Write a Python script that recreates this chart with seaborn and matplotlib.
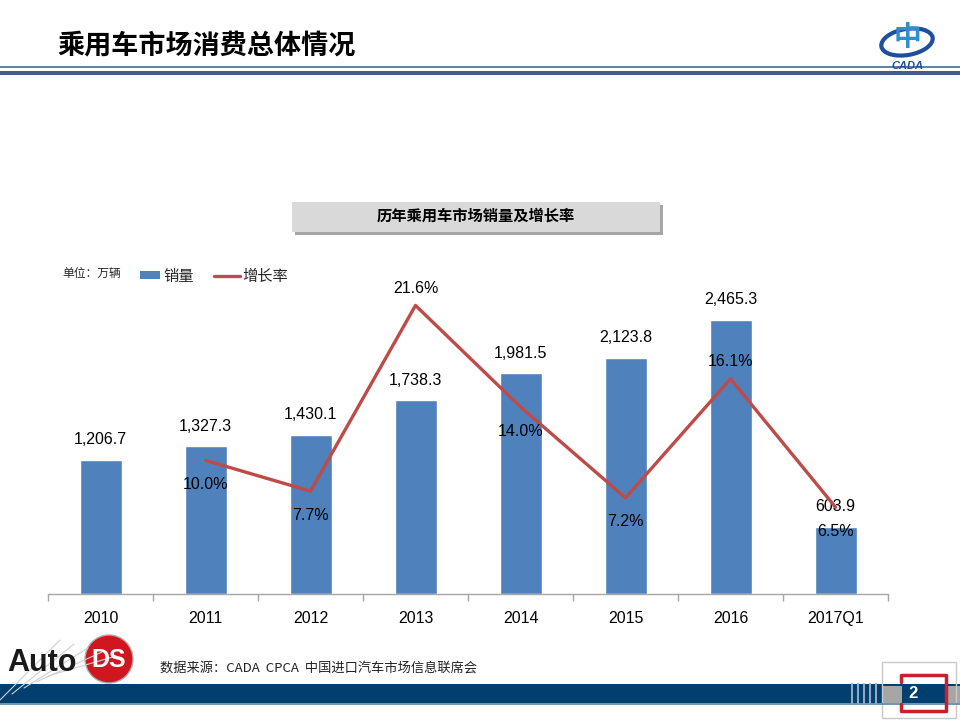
import numpy as np
import pandas as pd
import matplotlib
matplotlib.use("Agg")
import matplotlib.pyplot as plt
from matplotlib.patches import Rectangle, Ellipse, Circle
import seaborn as sns

# data
years = ['2010', '2011', '2012', '2013', '2014', '2015', '2016', '2017Q1']
sales = [1206.7, 1327.3, 1430.1, 1738.3, 1981.5, 2123.8, 2465.3, 603.9]
growth = [np.nan, 10.0, 7.7, 21.6, 14.0, 7.2, 16.1, 6.5]
growth_label_pos = ['', 'below', 'below', 'above', 'below', 'below', 'above', 'below']

BAR_BLUE = '#4F81BD'
LINE_RED = '#BE4B48'

sns.set_theme(style='white')
plt.rcParams['font.family'] = ['Liberation Sans', 'Noto Sans CJK SC', 'DejaVu Sans']
CJK = ['Noto Sans CJK SC', 'DejaVu Sans']

df = pd.DataFrame({'year': years, 'sales': sales, 'growth': growth})
df['pos'] = range(len(df))

fig = plt.figure(figsize=(9.6, 7.2), dpi=100)

# main chart area
ax = fig.add_axes([0.05, 0.175, 0.875, 0.4639])
ax.patch.set_visible(False)
sns.barplot(data=df, x='year', y='sales', color=BAR_BLUE, saturation=1,
            width=0.4, ax=ax)
ax.set_ylim(0, 3000)
ax.set_xlim(-0.5, len(years) - 0.5)
ax.set_xlabel('')
ax.set_ylabel('')
ax.set_yticks([])
for s in ['left', 'right', 'top']:
    ax.spines[s].set_visible(False)
ax.spines['bottom'].set_color('#A6A6A6')
ax.spines['bottom'].set_linewidth(1)
ax.tick_params(axis='x', which='major', length=0, pad=12, labelsize=11.5, colors='black')
ax.set_xticks(np.arange(-0.5, len(years)), minor=True)
ax.tick_params(axis='x', which='minor', length=5, color='#A6A6A6', width=1, direction='out')
ax.xaxis.set_tick_params(which='minor', bottom=True)

for i, v in enumerate(sales):
    ax.annotate(f'{v:,.1f}', (i, v), xytext=(0, 9), textcoords='offset points',
                ha='center', va='bottom', fontsize=11.5, color='black')

ax2 = ax.twinx()
ax2.patch.set_visible(False)
sns.lineplot(data=df, x='pos', y='growth', color=LINE_RED, linewidth=2.4, ax=ax2)
ax2.set_ylim(0, 25)
ax2.set_xlim(-0.5, len(years) - 0.5)
ax2.set_yticks([])
ax2.set_ylabel('')
ax2.set_xlabel('')
for s in ['left', 'right', 'top', 'bottom']:
    ax2.spines[s].set_visible(False)
for i, (g, p) in enumerate(zip(growth, growth_label_pos)):
    if np.isnan(g):
        continue
    if p == 'above':
        ax2.annotate(f'{g:.1f}%', (i, g), xytext=(0, 7), textcoords='offset points',
                     ha='center', va='bottom', fontsize=11.5, color='black')
    else:
        ax2.annotate(f'{g:.1f}%', (i, g), xytext=(0, -12), textcoords='offset points',
                     ha='center', va='top', fontsize=11.5, color='black')

# page decoration
deco = fig.add_axes([0, 0, 1, 1], zorder=-1)
deco.set_xlim(0, 960)
deco.set_ylim(720, 0)
deco.axis('off')

deco.text(57, 46, '乘用车市场消费总体情况', family=CJK, fontsize=19.5, fontweight='bold',
          va='center', ha='left', color='black')
deco.plot([0, 960], [67, 67], color='#4A6A8F', linewidth=1.2)
deco.add_patch(Rectangle((0, 70.5), 960, 4, color='#3D5F88', linewidth=0))

# CADA logo (approximate)
deco.add_patch(Ellipse((907, 42), 52, 26, angle=-10, facecolor='none',
                       edgecolor='#1F4E9A', linewidth=3))
deco.text(907, 38, '中', family=CJK, fontsize=20, color='#2E8FD0', ha='center',
          va='center', fontweight='bold')
deco.text(907, 66, 'CADA', fontsize=8, color='#1F4E9A', ha='center', va='center',
          fontweight='bold', style='italic')

# chart title box
deco.add_patch(Rectangle((295, 205), 368, 30, facecolor='#A6A6A6', linewidth=0))
deco.add_patch(Rectangle((292, 202), 368, 30, facecolor='#D9D9D9', linewidth=0))
deco.text(476, 216, '历年乘用车市场销量及增长率', family=CJK, fontsize=11,
          fontweight='bold', ha='center', va='center', color='black')

# legend
deco.text(62, 273, '单位：万辆', family=CJK, fontsize=8.5, ha='left', va='center')
deco.add_patch(Rectangle((140, 271), 20, 8, facecolor=BAR_BLUE, linewidth=0))
deco.text(163, 276, '销量', family=CJK, fontsize=11, ha='left', va='center')
deco.plot([214, 240], [276, 276], color=LINE_RED, linewidth=2.4)
deco.text(242, 276, '增长率', family=CJK, fontsize=11, ha='left', va='center')

# footer
deco.text(160, 668, '数据来源：CADA  CPCA  中国进口汽车市场信息联席会', family=CJK,
          fontsize=9.5, ha='left', va='center', color='#222222')
deco.add_patch(Rectangle((0, 684), 960, 19, facecolor='#003F6E', linewidth=0))
deco.plot([0, 960], [704, 704], color='#5A7FA3', linewidth=1.2)
for xx in [852, 858, 864, 870, 876]:
    deco.plot([xx, xx], [684, 703], color='#8FA9C4', linewidth=1.5)
deco.add_patch(Rectangle((882, 686), 78, 17, facecolor='#A6A6A6', linewidth=0))
deco.add_patch(Rectangle((882, 662), 74, 56, facecolor='none', edgecolor='#C8C8C8', linewidth=1))
deco.plot([901, 901, 946, 946, 901, 901], [682, 675, 675, 711, 711, 704],
          color='#C8202F', linewidth=2.5)
deco.add_patch(Rectangle((902, 684), 43, 19, facecolor='#003F6E', linewidth=0))
deco.text(913, 693, '2', fontsize=12, fontweight='bold', color='white', ha='center', va='center')

# AutoDS logo (approximate)
for k in range(5):
    deco.plot([0 + k * 12, 60 + k * 14], [700 - k * 6, 640 + k * 4], color='#D0D0D0', linewidth=0.8)
deco.text(7, 663, 'Auto', fontsize=22, fontweight='bold', color='#1A1A1A',
          ha='left', va='center')
deco.add_patch(Circle((109, 659), 24, facecolor='#D0161E', edgecolor='#B0B0B0', linewidth=1))
deco.text(109, 660, 'DS', fontsize=18, fontweight='bold', color='white',
          ha='center', va='center')

fig.savefig('out.png', dpi=100)
